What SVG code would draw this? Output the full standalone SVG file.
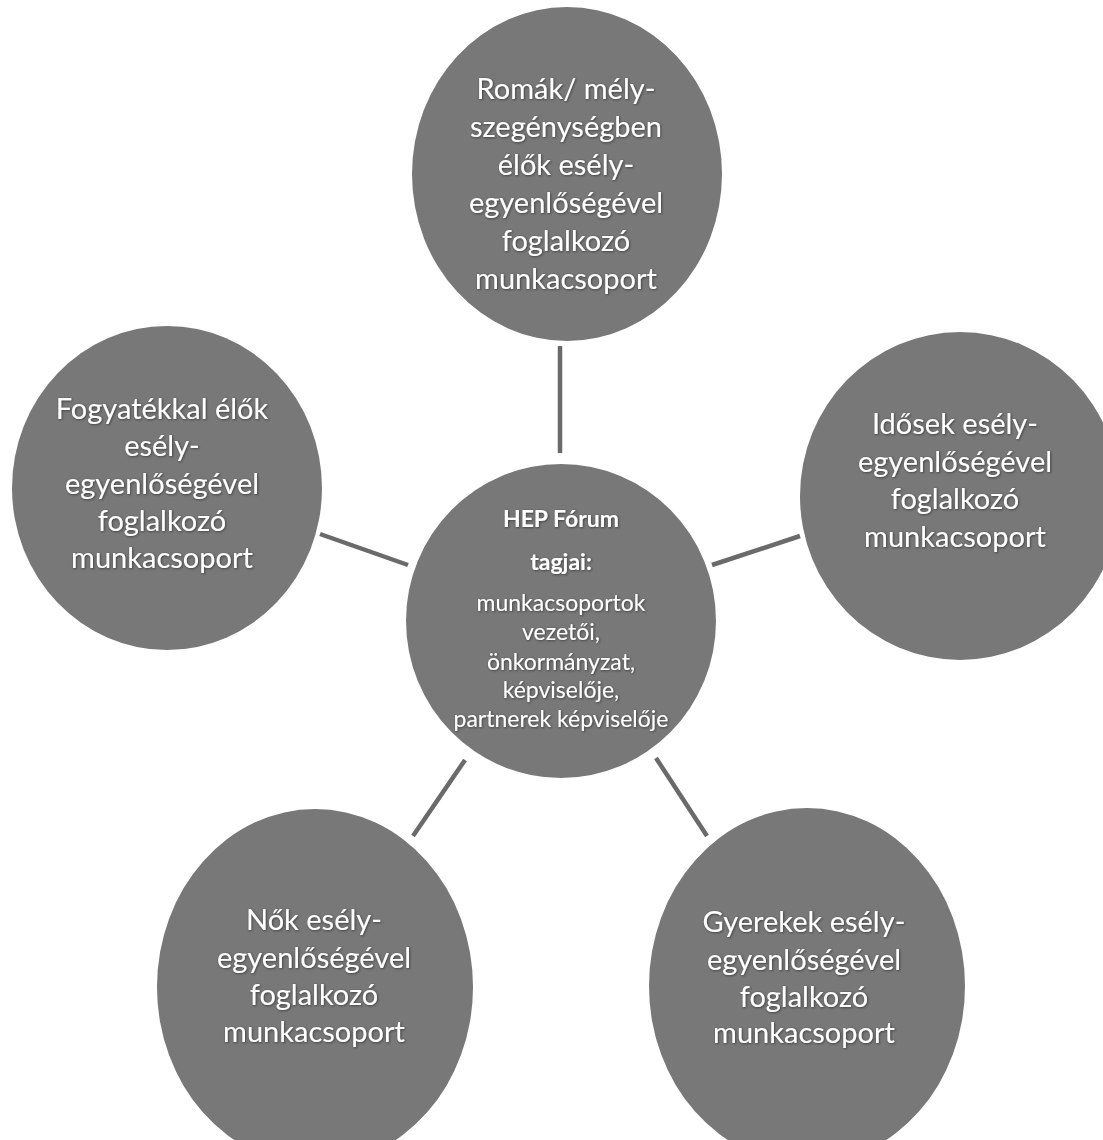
<svg xmlns="http://www.w3.org/2000/svg" width="1103" height="1140" viewBox="0 0 1103 1140">
<style>
.node{fill:#787878;}
.t{font-family:Lato,"Liberation Sans",sans-serif;font-size:29px;fill:#ffffff;text-anchor:middle;filter:url(#sh);}
.c{font-family:Lato,"Liberation Sans",sans-serif;font-size:23px;fill:#ffffff;text-anchor:middle;filter:url(#sh);}
.b{font-weight:bold;}
.conn line{stroke:#6a6a6a;stroke-width:4.5;}
</style>
<defs>
<filter id="sh" x="-10%" y="-30%" width="120%" height="160%">
<feDropShadow dx="0.8" dy="0.8" stdDeviation="0.9" flood-color="#222222" flood-opacity="0.7"/>
</filter>
</defs>
<rect width="1103" height="1140" fill="#ffffff"/>
<g class="conn" id="connectors">
<line x1="560" y1="346" x2="560" y2="453"/>
<line x1="320" y1="534" x2="408" y2="565"/>
<line x1="712" y1="565" x2="800" y2="536"/>
<line x1="465" y1="760" x2="413" y2="836"/>
<line x1="656" y1="758" x2="707" y2="836"/>
</g>
<g id="n-top">
<ellipse class="node" cx="567" cy="174" rx="155" ry="167"/>
<text class="t" x="566" y="99">Romák/ mély-</text>
<text class="t" x="566" y="137">szegénységben</text>
<text class="t" x="566" y="175">élők esély-</text>
<text class="t" x="566" y="213">egyenlőségével</text>
<text class="t" x="566" y="251">foglalkozó</text>
<text class="t" x="566" y="289">munkacsoport</text>
</g>
<g id="n-left">
<ellipse class="node" cx="167" cy="488" rx="155" ry="162"/>
<text class="t" x="162" y="419">Fogyatékkal élők</text>
<text class="t" x="162" y="456">esély-</text>
<text class="t" x="162" y="494">egyenlőségével</text>
<text class="t" x="162" y="531">foglalkozó</text>
<text class="t" x="162" y="568">munkacsoport</text>
</g>
<g id="n-right">
<ellipse class="node" cx="960" cy="496" rx="160" ry="164"/>
<text class="t" x="955" y="434">Idősek esély-</text>
<text class="t" x="955" y="472">egyenlőségével</text>
<text class="t" x="955" y="509">foglalkozó</text>
<text class="t" x="955" y="547">munkacsoport</text>
</g>
<g id="n-center">
<ellipse class="node" cx="561" cy="621" rx="155" ry="157"/>
<text class="c b" x="561" y="527">HEP Fórum</text>
<text class="c b" x="561" y="570">tagjai:</text>
<text class="c" x="561" y="611">munkacsoportok</text>
<text class="c" x="561" y="640">vezetői,</text>
<text class="c" x="561" y="670">önkormányzat,</text>
<text class="c" x="561" y="698">képviselője,</text>
<text class="c" x="561" y="727">partnerek képviselője</text>
</g>
<g id="n-bottom-left">
<ellipse class="node" cx="315" cy="987" rx="158" ry="178"/>
<text class="t" x="314" y="930">Nők esély-</text>
<text class="t" x="314" y="968">egyenlőségével</text>
<text class="t" x="314" y="1005">foglalkozó</text>
<text class="t" x="314" y="1042">munkacsoport</text>
</g>
<g id="n-bottom-right">
<ellipse class="node" cx="807" cy="986" rx="158" ry="178"/>
<text class="t" x="804" y="932">Gyerekek esély-</text>
<text class="t" x="804" y="970">egyenlőségével</text>
<text class="t" x="804" y="1007">foglalkozó</text>
<text class="t" x="804" y="1043">munkacsoport</text>
</g>
</svg>
